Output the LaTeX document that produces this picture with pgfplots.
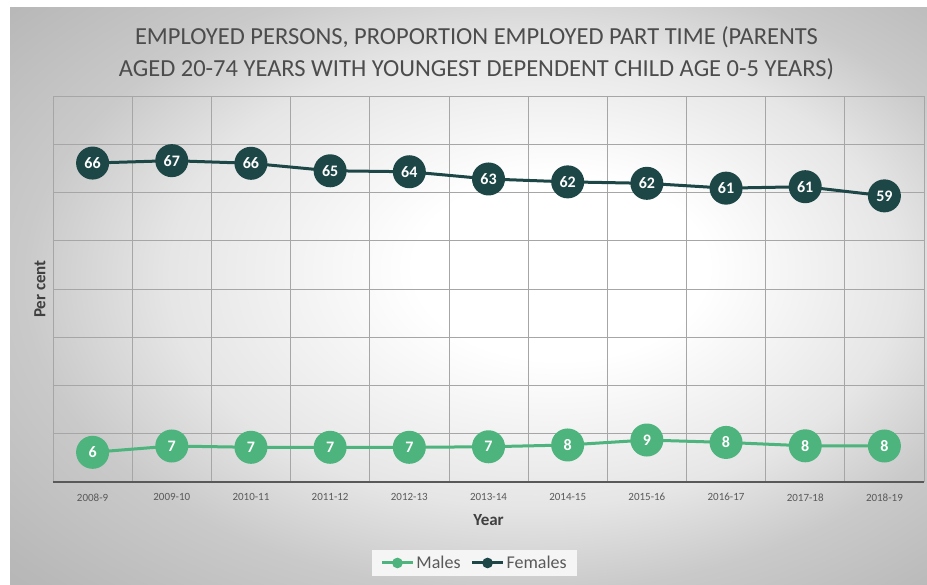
\documentclass[border=0pt]{standalone}
\usepackage{fontspec}
\setmainfont{Carlito}
\usepackage{pgfplots}
\pgfplotsset{compat=1.18}
\definecolor{males}{HTML}{4CB47C}
\definecolor{females}{HTML}{1C4746}
\definecolor{txt}{HTML}{595959}
\pgfdeclareradialshading{bgshade}{\pgfpoint{6bp}{3bp}}{%
  color(0bp)=(white);
  color(8bp)=(white);
  color(20bp)=(black!10);
  color(27bp)=(black!21);
  color(36bp)=(black!28);
  color(50bp)=(black!30)}
\begin{document}
\begin{tikzpicture}[x=1pt,y=1pt]
\useasboundingbox (0,0) rectangle (927,585);
\fill[white] (0,0) rectangle (927,585);
\shade[shading=bgshade] (10,0) rectangle (927,577);
\node[align=center, font=\fontsize{24.5}{32}\selectfont, text=black!70] at (476.5,532)
  {EMPLOYED PERSONS, PROPORTION EMPLOYED PART TIME (PARENTS\\AGED 20-74 YEARS WITH YOUNGEST DEPENDENT CHILD AGE 0-5 YEARS)};
\begin{axis}[
  at={(53pt,103pt)}, anchor=south west,
  scale only axis, width=871pt, height=386pt,
  xmin=-0.5, xmax=10.5, ymin=0, ymax=80,
  clip=false,
  axis line style={draw=none},
  xtick={0,...,10},
  xticklabels={2008-9,2009-10,2010-11,2011-12,2012-13,2013-14,2014-15,2015-16,2016-17,2017-18,2018-19},
  minor xtick={-0.5,0.5,...,10.5},
  xminorgrids=true, xmajorgrids=false,
  ytick={0,10,...,80}, yticklabels={},
  ymajorgrids=true,
  major tick length=0pt, minor tick length=0pt,
  grid style={black!35, line width=0.8pt},
  minor grid style={black!35, line width=0.8pt},
  xticklabel style={font=\fontsize{11}{12}\selectfont, text=txt, yshift=-8pt},
  xlabel={Year},
  xlabel style={at={(axis description cs:0.5,0)}, anchor=center, yshift=-38pt, font=\bfseries\fontsize{17}{20}\selectfont, text=black!75},
  ylabel={Per cent},
  ylabel style={at={(axis description cs:-0.0149,0.5)}, anchor=center, font=\bfseries\fontsize{17}{20}\selectfont, text=black!75},
  legend columns=2,
  legend style={at={(0.484,-0.2098)}, anchor=center, draw=none, fill=black!4,
    font=\fontsize{18}{20}\selectfont, text=txt, inner xsep=8pt, inner ysep=4pt,
    /tikz/every even column/.append style={column sep=8pt}},
  nodes near coords={\pgfplotspointmeta},
  point meta=explicit symbolic,
  nodes near coords style={anchor=center, text=white, font=\bfseries\fontsize{16}{16}\selectfont},
]
\draw[black!65, line width=2pt] (rel axis cs:0,0) -- (rel axis cs:1,0);
\addplot[color=males, line width=3pt, mark=*, mark size=15pt, mark options={fill=males, draw=males}, forget plot]
  coordinates {(0,6.15)[6] (1,7.46)[7] (2,7.19)[7] (3,7.19)[7] (4,7.19)[7] (5,7.3)[7] (6,7.67)[8] (7,8.7)[9] (8,8.2)[8] (9,7.5)[8] (10,7.46)[8]};
\addplot[color=females, line width=3pt, mark=*, mark size=15pt, mark options={fill=females, draw=females}, forget plot]
  coordinates {(0,66.1)[66] (1,66.6)[67] (2,66.05)[66] (3,64.5)[65] (4,64.3)[64] (5,62.8)[63] (6,62.2)[62] (7,61.9)[62] (8,60.9)[61] (9,61.2)[61] (10,59.3)[59]};
\addlegendimage{legend image code/.code={\draw[males, line width=3pt] (0pt,0pt) -- (31pt,0pt); \filldraw[males, line width=1pt] (15.5pt,0pt) circle (4.8pt);}}
\addlegendentry{Males}
\addlegendimage{legend image code/.code={\draw[females, line width=3pt] (0pt,0pt) -- (31pt,0pt); \filldraw[females, line width=1pt] (15.5pt,0pt) circle (4.8pt);}}
\addlegendentry{Females}
\end{axis}
\end{tikzpicture}
\end{document}
